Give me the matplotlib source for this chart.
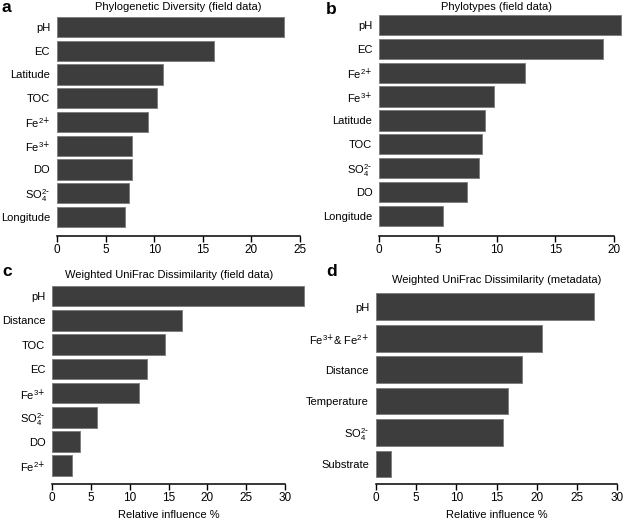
import matplotlib
matplotlib.use('Agg')
import matplotlib.pyplot as plt
import numpy as np

plt.rcParams['font.family'] = ['Liberation Sans', 'DejaVu Sans']
plt.rcParams['mathtext.default'] = 'regular'

FE2 = r'Fe$^{2\text{+}}$'
FE3 = r'Fe$^{3\text{+}}$'
SO4 = r'SO$_4^{2\text{-}}$'

# panel data (relative influence %)
a_labels = ['pH', 'EC', 'Latitude', 'TOC', FE2, FE3, 'DO', SO4, 'Longitude']
a_vals = [23.35, 16.15, 10.9, 10.3, 9.35, 7.75, 7.75, 7.4, 6.95]

b_labels = ['pH', 'EC', FE2, FE3, 'Latitude', 'TOC', SO4, 'DO', 'Longitude']
b_vals = [20.6, 19.05, 12.45, 9.8, 9.0, 8.75, 8.5, 7.5, 5.4]

c_labels = ['pH', 'Distance', 'TOC', 'EC', FE3, SO4, 'DO', FE2]
c_vals = [32.4, 16.7, 14.5, 12.15, 11.2, 5.8, 3.55, 2.55]

d_labels = ['pH', r'Fe$^{3\text{+}}$& Fe$^{2\text{+}}$', 'Distance', 'Temperature', SO4, 'Substrate']
d_vals = [27.1, 20.6, 18.2, 16.4, 15.8, 1.85]

W, H = 625, 519
fig = plt.figure(figsize=(W / 100, H / 100), dpi=100)


def px_axes(x0, x1, ytop, ybot):
    return fig.add_axes([x0 / W, 1 - ybot / H, (x1 - x0) / W, (ybot - ytop) / H])


def panel(ax, labels, vals, xmax, ybottom, title, ty, letter, lx, ly, xlabel=False):
    y = np.arange(len(labels))
    ax.barh(y, vals, height=0.85, color='#3d3d3d', edgecolor='#808080',
            linewidth=0.7, clip_on=False)
    ax.set_xlim(0, xmax)
    ax.set_ylim(ybottom, -0.5)
    ax.set_xticks(np.arange(0, xmax + 1, 5))
    ax.set_yticks(y)
    ax.set_yticklabels(labels, fontsize=8)
    ax.tick_params(axis='y', length=0, pad=5)
    ax.tick_params(axis='x', labelsize=8.5, length=4, width=1, pad=2)
    for s in ['top', 'right', 'left']:
        ax.spines[s].set_visible(False)
    ax.spines['bottom'].set_linewidth(1.1)
    # title placed at fixed pixel height
    bb = ax.get_position()
    fig.text((bb.x0 + bb.x1) / 2, 1 - ty / H, title, fontsize=8,
             ha='center', va='center')
    if xlabel:
        ax.set_xlabel('Relative influence %', fontsize=8, labelpad=4)
    fig.text(lx / W, 1 - ly / H, letter, fontsize=12.5, fontweight='bold',
             ha='left', va='center')


ax_a = px_axes(57, 300, 15, 236)
panel(ax_a, a_labels, a_vals, 25, 8.8, 'Phylogenetic Diversity (field data)', 7, 'a', 2, 7)

ax_b = px_axes(379.3, 614, 13, 236)
panel(ax_b, b_labels, b_vals, 20, 8.84, 'Phylotypes (field data)', 7, 'b', 326, 9)

ax_c = px_axes(52.3, 285, 284, 483.7)
panel(ax_c, c_labels, c_vals, 30, 7.74, 'Weighted UniFrac Dissimilarity (field data)', 275,
      'c', 2, 271, xlabel=True)

ax_d = px_axes(376, 617.3, 291, 484)
panel(ax_d, d_labels, d_vals, 30, 5.64, 'Weighted UniFrac Dissimilarity (metadata)', 280,
      'd', 326, 272, xlabel=True)

fig.savefig('out.png', dpi=100)
